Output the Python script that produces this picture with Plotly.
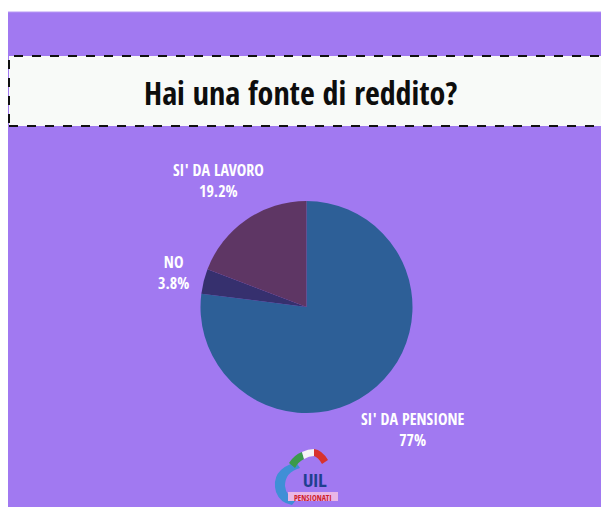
import plotly.graph_objects as go

W, H = 601, 507

categories = ["SI' DA PENSIONE", "NO", "SI' DA LAVORO"]
values = [77, 3.8, 19.2]
value_labels = ["77%", "3.8%", "19.2%"]
colors = ["#2d5f97", "#36306e", "#5e3664"]
title_text = "Hai una fonte di reddito?"

COND = "Open Sans Condensed, Roboto Condensed, sans-serif"

def px(x):
    return x / W

def py(y):
    return 1 - y / H

fig = go.Figure()
fig.add_trace(go.Pie(
    labels=categories, values=values, sort=False, direction="clockwise",
    rotation=0, marker=dict(colors=colors, line=dict(width=0)),
    textinfo="none", hoverinfo="label+percent", showlegend=False,
    domain=dict(x=[px(200.5), px(412.5)], y=[py(413), py(201)]),
))

shapes = [
    dict(type="rect", xref="paper", yref="paper", x0=px(8), x1=px(620), y0=py(520), y1=py(12),
         fillcolor="#a179f1", line=dict(width=0), layer="below"),
    dict(type="line", xref="paper", yref="paper", x0=px(8), x1=px(620), y0=py(12), y1=py(12),
         line=dict(color="#b89af5", width=1)),
    dict(type="rect", xref="paper", yref="paper", x0=px(9), x1=px(620), y0=py(126), y1=py(56),
         fillcolor="#f8faf8", line=dict(color="#111111", width=2, dash="dash"), layer="below"),
]

def P(x, y):
    return f"{px(x)} {py(y)}"

# simplified UIL Pensionati logo
shapes += [
    dict(type="path", xref="paper", yref="paper",
         path=f"M {P(296,462)} Q {P(270,470)} {P(276,492)} Q {P(280,503)} {P(292,505)} L {P(296,500)} Q {P(286,496)} {P(285,486)} Q {P(285,472)} {P(300,468)} Z",
         fillcolor="#3f8fd6", line=dict(width=0)),
    dict(type="path", xref="paper", yref="paper",
         path=f"M {P(289,463)} Q {P(294,455)} {P(302,452)} L {P(304,459)} Q {P(298,462)} {P(295,468)} Z",
         fillcolor="#3b9a4b", line=dict(width=0)),
    dict(type="path", xref="paper", yref="paper",
         path=f"M {P(302,452)} Q {P(308,449)} {P(314,449)} L {P(314,456)} Q {P(309,456)} {P(304,459)} Z",
         fillcolor="#f4f4f4", line=dict(width=0)),
    dict(type="path", xref="paper", yref="paper",
         path=f"M {P(314,449)} Q {P(322,450)} {P(328,460)} L {P(322,464)} Q {P(318,457)} {P(314,456)} Z",
         fillcolor="#d8322e", line=dict(width=0)),
    dict(type="rect", xref="paper", yref="paper", x0=px(288), x1=px(338), y0=py(501), y1=py(492),
         fillcolor="#e9b6e6", line=dict(width=0)),
]

label_pos = [(412.5, 429), (173, 272.5), (218, 180.5)]
annotations = []
for cat, vl, (x, y) in zip(categories, value_labels, label_pos):
    annotations.append(dict(
        x=px(x), y=py(y), xref="paper", yref="paper", showarrow=False,
        xanchor="center", yanchor="middle",
        text=f"<b>{cat}</b><br><b>{vl}</b>", align="center",
        font=dict(family=COND, size=16, color="white"),
    ))
annotations.append(dict(
    x=px(301), y=py(92), xref="paper", yref="paper", showarrow=False,
    xanchor="center", yanchor="middle",
    text=f"<b>{title_text}</b>",
    font=dict(family=COND, size=32, color="#0d0d0d"),
))
annotations.append(dict(
    x=px(315), y=py(480), xref="paper", yref="paper", showarrow=False,
    xanchor="center", yanchor="middle",
    text="<b>UIL</b>",
    font=dict(family="Roboto Condensed, sans-serif", size=18, color="#1f3f8f"),
))
annotations.append(dict(
    x=px(313), y=py(497), xref="paper", yref="paper", showarrow=False,
    xanchor="center", yanchor="middle",
    text="<b>PENSIONATI</b>",
    font=dict(family=COND, size=8, color="#d0202a"),
))

fig.update_layout(
    width=W, height=H, margin=dict(l=0, r=0, t=0, b=0),
    paper_bgcolor="white", plot_bgcolor="white",
    shapes=shapes, annotations=annotations,
)

fig.write_html("out.html")
